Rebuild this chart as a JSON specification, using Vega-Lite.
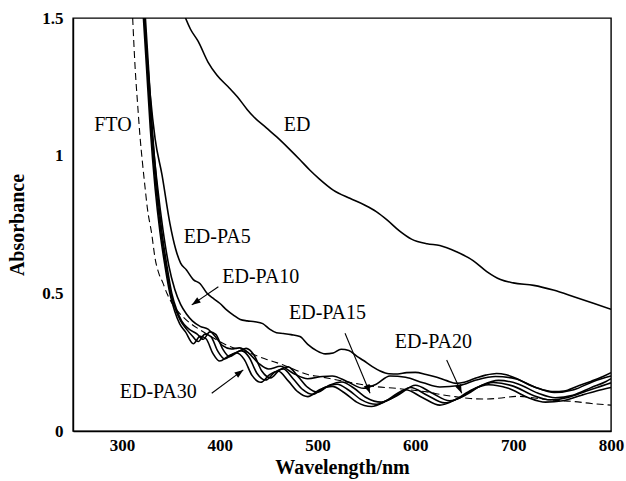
{
  "$schema": "https://vega.github.io/schema/vega-lite/v6.json",
  "width": 538,
  "height": 413,
  "autosize": "none",
  "padding": {"left": 73, "top": 18, "right": 15, "bottom": 50},
  "background": "white",
  "config": {"view": {"stroke": "black", "strokeWidth": 1.4}, "font": "Liberation Serif"},
  "datasets": {
    "curves": [
      {"series": "FTO", "x": 311, "y": 1.5}, {"series": "FTO", "x": 313.5, "y": 1.32}, {"series": "FTO", "x": 316, "y": 1.19}, {"series": "FTO", "x": 318.5, "y": 1.07}, {"series": "FTO", "x": 321, "y": 0.975}, {"series": "FTO", "x": 323.5, "y": 0.89}, {"series": "FTO", "x": 326, "y": 0.81}, {"series": "FTO", "x": 330.5, "y": 0.715}, {"series": "FTO", "x": 334, "y": 0.625}, {"series": "FTO", "x": 338, "y": 0.57}, {"series": "FTO", "x": 342, "y": 0.537}, {"series": "FTO", "x": 346, "y": 0.5}, {"series": "FTO", "x": 351, "y": 0.465}, {"series": "FTO", "x": 356, "y": 0.44}, {"series": "FTO", "x": 366, "y": 0.403}, {"series": "FTO", "x": 380, "y": 0.367}, {"series": "FTO", "x": 395, "y": 0.335}, {"series": "FTO", "x": 407, "y": 0.312}, {"series": "FTO", "x": 420, "y": 0.295}, {"series": "FTO", "x": 431, "y": 0.282}, {"series": "FTO", "x": 448, "y": 0.26}, {"series": "FTO", "x": 465, "y": 0.24}, {"series": "FTO", "x": 480, "y": 0.218}, {"series": "FTO", "x": 490, "y": 0.205}, {"series": "FTO", "x": 503, "y": 0.197}, {"series": "FTO", "x": 520, "y": 0.185}, {"series": "FTO", "x": 540, "y": 0.172}, {"series": "FTO", "x": 560, "y": 0.161}, {"series": "FTO", "x": 580, "y": 0.155}, {"series": "FTO", "x": 595, "y": 0.149}, {"series": "FTO", "x": 612, "y": 0.142}, {"series": "FTO", "x": 628, "y": 0.131}, {"series": "FTO", "x": 642, "y": 0.124}, {"series": "FTO", "x": 656, "y": 0.118}, {"series": "FTO", "x": 672, "y": 0.116}, {"series": "FTO", "x": 688, "y": 0.12}, {"series": "FTO", "x": 705, "y": 0.126}, {"series": "FTO", "x": 722, "y": 0.12}, {"series": "FTO", "x": 738, "y": 0.113}, {"series": "FTO", "x": 762, "y": 0.107}, {"series": "FTO", "x": 780, "y": 0.1}, {"series": "FTO", "x": 800, "y": 0.094},

      {"series": "ED", "x": 365, "y": 1.5}, {"series": "ED", "x": 370, "y": 1.46}, {"series": "ED", "x": 378, "y": 1.415}, {"series": "ED", "x": 388, "y": 1.34}, {"series": "ED", "x": 397, "y": 1.293}, {"series": "ED", "x": 410, "y": 1.245}, {"series": "ED", "x": 418, "y": 1.214}, {"series": "ED", "x": 428, "y": 1.168}, {"series": "ED", "x": 434, "y": 1.144}, {"series": "ED", "x": 448, "y": 1.1}, {"series": "ED", "x": 458, "y": 1.069}, {"series": "ED", "x": 472, "y": 1.021}, {"series": "ED", "x": 482, "y": 0.985}, {"series": "ED", "x": 492, "y": 0.948}, {"series": "ED", "x": 502, "y": 0.915}, {"series": "ED", "x": 516, "y": 0.875}, {"series": "ED", "x": 533, "y": 0.845}, {"series": "ED", "x": 548, "y": 0.821}, {"series": "ED", "x": 560, "y": 0.797}, {"series": "ED", "x": 571, "y": 0.767}, {"series": "ED", "x": 584, "y": 0.726}, {"series": "ED", "x": 596, "y": 0.697}, {"series": "ED", "x": 612, "y": 0.68}, {"series": "ED", "x": 625, "y": 0.674}, {"series": "ED", "x": 642, "y": 0.651}, {"series": "ED", "x": 659, "y": 0.619}, {"series": "ED", "x": 673, "y": 0.579}, {"series": "ED", "x": 687, "y": 0.55}, {"series": "ED", "x": 700, "y": 0.538}, {"series": "ED", "x": 721, "y": 0.529}, {"series": "ED", "x": 741, "y": 0.512}, {"series": "ED", "x": 762, "y": 0.488}, {"series": "ED", "x": 782, "y": 0.464}, {"series": "ED", "x": 800, "y": 0.442},

      {"series": "ED-PA5", "x": 323, "y": 1.5}, {"series": "ED-PA5", "x": 326, "y": 1.35}, {"series": "ED-PA5", "x": 329, "y": 1.22}, {"series": "ED-PA5", "x": 334, "y": 1.06}, {"series": "ED-PA5", "x": 341, "y": 0.93}, {"series": "ED-PA5", "x": 349, "y": 0.755}, {"series": "ED-PA5", "x": 355, "y": 0.66}, {"series": "ED-PA5", "x": 360, "y": 0.61}, {"series": "ED-PA5", "x": 366, "y": 0.585}, {"series": "ED-PA5", "x": 373, "y": 0.55}, {"series": "ED-PA5", "x": 380, "y": 0.535}, {"series": "ED-PA5", "x": 387, "y": 0.5}, {"series": "ED-PA5", "x": 394, "y": 0.48}, {"series": "ED-PA5", "x": 400, "y": 0.464}, {"series": "ED-PA5", "x": 407, "y": 0.44}, {"series": "ED-PA5", "x": 414, "y": 0.421}, {"series": "ED-PA5", "x": 421, "y": 0.405}, {"series": "ED-PA5", "x": 428, "y": 0.4}, {"series": "ED-PA5", "x": 436, "y": 0.397}, {"series": "ED-PA5", "x": 444, "y": 0.39}, {"series": "ED-PA5", "x": 451, "y": 0.37}, {"series": "ED-PA5", "x": 458, "y": 0.357}, {"series": "ED-PA5", "x": 465, "y": 0.354}, {"series": "ED-PA5", "x": 473, "y": 0.35}, {"series": "ED-PA5", "x": 482, "y": 0.343}, {"series": "ED-PA5", "x": 490, "y": 0.315}, {"series": "ED-PA5", "x": 499, "y": 0.292}, {"series": "ED-PA5", "x": 508, "y": 0.28}, {"series": "ED-PA5", "x": 516, "y": 0.283}, {"series": "ED-PA5", "x": 524, "y": 0.297}, {"series": "ED-PA5", "x": 532, "y": 0.292}, {"series": "ED-PA5", "x": 540, "y": 0.272}, {"series": "ED-PA5", "x": 547, "y": 0.256}, {"series": "ED-PA5", "x": 556, "y": 0.234}, {"series": "ED-PA5", "x": 564, "y": 0.218}, {"series": "ED-PA5", "x": 573, "y": 0.208}, {"series": "ED-PA5", "x": 582, "y": 0.207}, {"series": "ED-PA5", "x": 591, "y": 0.212}, {"series": "ED-PA5", "x": 600, "y": 0.213}, {"series": "ED-PA5", "x": 611, "y": 0.205}, {"series": "ED-PA5", "x": 622, "y": 0.195}, {"series": "ED-PA5", "x": 632, "y": 0.183}, {"series": "ED-PA5", "x": 642, "y": 0.173}, {"series": "ED-PA5", "x": 650, "y": 0.177}, {"series": "ED-PA5", "x": 660, "y": 0.19}, {"series": "ED-PA5", "x": 672, "y": 0.203}, {"series": "ED-PA5", "x": 683, "y": 0.209}, {"series": "ED-PA5", "x": 693, "y": 0.204}, {"series": "ED-PA5", "x": 704, "y": 0.19}, {"series": "ED-PA5", "x": 716, "y": 0.168}, {"series": "ED-PA5", "x": 730, "y": 0.15}, {"series": "ED-PA5", "x": 742, "y": 0.143}, {"series": "ED-PA5", "x": 752, "y": 0.145}, {"series": "ED-PA5", "x": 765, "y": 0.162}, {"series": "ED-PA5", "x": 780, "y": 0.181}, {"series": "ED-PA5", "x": 790, "y": 0.195}, {"series": "ED-PA5", "x": 800, "y": 0.212},

      {"series": "ED-PA10", "x": 323, "y": 1.5}, {"series": "ED-PA10", "x": 326, "y": 1.34}, {"series": "ED-PA10", "x": 330, "y": 1.12}, {"series": "ED-PA10", "x": 336, "y": 0.9}, {"series": "ED-PA10", "x": 342, "y": 0.73}, {"series": "ED-PA10", "x": 348, "y": 0.6}, {"series": "ED-PA10", "x": 354, "y": 0.515}, {"series": "ED-PA10", "x": 360, "y": 0.46}, {"series": "ED-PA10", "x": 366, "y": 0.425}, {"series": "ED-PA10", "x": 372, "y": 0.4}, {"series": "ED-PA10", "x": 380, "y": 0.38}, {"series": "ED-PA10", "x": 388, "y": 0.37}, {"series": "ED-PA10", "x": 395, "y": 0.345}, {"series": "ED-PA10", "x": 403, "y": 0.31}, {"series": "ED-PA10", "x": 412, "y": 0.298}, {"series": "ED-PA10", "x": 420, "y": 0.302}, {"series": "ED-PA10", "x": 430, "y": 0.282}, {"series": "ED-PA10", "x": 440, "y": 0.245}, {"series": "ED-PA10", "x": 450, "y": 0.225}, {"series": "ED-PA10", "x": 462, "y": 0.235}, {"series": "ED-PA10", "x": 475, "y": 0.21}, {"series": "ED-PA10", "x": 490, "y": 0.19}, {"series": "ED-PA10", "x": 505, "y": 0.198}, {"series": "ED-PA10", "x": 515, "y": 0.2}, {"series": "ED-PA10", "x": 530, "y": 0.18}, {"series": "ED-PA10", "x": 547, "y": 0.155}, {"series": "ED-PA10", "x": 560, "y": 0.17}, {"series": "ED-PA10", "x": 574, "y": 0.2}, {"series": "ED-PA10", "x": 590, "y": 0.195}, {"series": "ED-PA10", "x": 608, "y": 0.175}, {"series": "ED-PA10", "x": 625, "y": 0.16}, {"series": "ED-PA10", "x": 645, "y": 0.165}, {"series": "ED-PA10", "x": 662, "y": 0.185}, {"series": "ED-PA10", "x": 682, "y": 0.198}, {"series": "ED-PA10", "x": 702, "y": 0.19}, {"series": "ED-PA10", "x": 722, "y": 0.16}, {"series": "ED-PA10", "x": 742, "y": 0.14}, {"series": "ED-PA10", "x": 762, "y": 0.15}, {"series": "ED-PA10", "x": 782, "y": 0.18}, {"series": "ED-PA10", "x": 800, "y": 0.2},

      {"series": "ED-PA15", "x": 324, "y": 1.5}, {"series": "ED-PA15", "x": 327, "y": 1.33}, {"series": "ED-PA15", "x": 331, "y": 1.1}, {"series": "ED-PA15", "x": 336, "y": 0.88}, {"series": "ED-PA15", "x": 341, "y": 0.72}, {"series": "ED-PA15", "x": 346, "y": 0.6}, {"series": "ED-PA15", "x": 351, "y": 0.5}, {"series": "ED-PA15", "x": 356, "y": 0.44}, {"series": "ED-PA15", "x": 361, "y": 0.4}, {"series": "ED-PA15", "x": 368, "y": 0.372}, {"series": "ED-PA15", "x": 377, "y": 0.352}, {"series": "ED-PA15", "x": 383, "y": 0.333}, {"series": "ED-PA15", "x": 390, "y": 0.36}, {"series": "ED-PA15", "x": 396, "y": 0.351}, {"series": "ED-PA15", "x": 403, "y": 0.298}, {"series": "ED-PA15", "x": 410, "y": 0.27}, {"series": "ED-PA15", "x": 418, "y": 0.286}, {"series": "ED-PA15", "x": 427, "y": 0.3}, {"series": "ED-PA15", "x": 435, "y": 0.276}, {"series": "ED-PA15", "x": 443, "y": 0.218}, {"series": "ED-PA15", "x": 452, "y": 0.193}, {"series": "ED-PA15", "x": 461, "y": 0.221}, {"series": "ED-PA15", "x": 470, "y": 0.233}, {"series": "ED-PA15", "x": 480, "y": 0.198}, {"series": "ED-PA15", "x": 490, "y": 0.158}, {"series": "ED-PA15", "x": 500, "y": 0.141}, {"series": "ED-PA15", "x": 512, "y": 0.166}, {"series": "ED-PA15", "x": 525, "y": 0.178}, {"series": "ED-PA15", "x": 537, "y": 0.156}, {"series": "ED-PA15", "x": 550, "y": 0.121}, {"series": "ED-PA15", "x": 565, "y": 0.105}, {"series": "ED-PA15", "x": 582, "y": 0.13}, {"series": "ED-PA15", "x": 600, "y": 0.166}, {"series": "ED-PA15", "x": 617, "y": 0.138}, {"series": "ED-PA15", "x": 635, "y": 0.11}, {"series": "ED-PA15", "x": 651, "y": 0.13}, {"series": "ED-PA15", "x": 668, "y": 0.166}, {"series": "ED-PA15", "x": 685, "y": 0.184}, {"series": "ED-PA15", "x": 705, "y": 0.171}, {"series": "ED-PA15", "x": 725, "y": 0.138}, {"series": "ED-PA15", "x": 743, "y": 0.121}, {"series": "ED-PA15", "x": 761, "y": 0.13}, {"series": "ED-PA15", "x": 780, "y": 0.158}, {"series": "ED-PA15", "x": 795, "y": 0.18}, {"series": "ED-PA15", "x": 800, "y": 0.19},

      {"series": "ED-PA20", "x": 323, "y": 1.5}, {"series": "ED-PA20", "x": 326, "y": 1.33}, {"series": "ED-PA20", "x": 330, "y": 1.1}, {"series": "ED-PA20", "x": 335, "y": 0.88}, {"series": "ED-PA20", "x": 340, "y": 0.72}, {"series": "ED-PA20", "x": 345, "y": 0.6}, {"series": "ED-PA20", "x": 350, "y": 0.5}, {"series": "ED-PA20", "x": 355, "y": 0.44}, {"series": "ED-PA20", "x": 360, "y": 0.4}, {"series": "ED-PA20", "x": 366, "y": 0.37}, {"series": "ED-PA20", "x": 372, "y": 0.345}, {"series": "ED-PA20", "x": 378, "y": 0.325}, {"series": "ED-PA20", "x": 385, "y": 0.352}, {"series": "ED-PA20", "x": 391, "y": 0.343}, {"series": "ED-PA20", "x": 398, "y": 0.29}, {"series": "ED-PA20", "x": 405, "y": 0.262}, {"series": "ED-PA20", "x": 413, "y": 0.278}, {"series": "ED-PA20", "x": 422, "y": 0.292}, {"series": "ED-PA20", "x": 430, "y": 0.268}, {"series": "ED-PA20", "x": 438, "y": 0.21}, {"series": "ED-PA20", "x": 447, "y": 0.185}, {"series": "ED-PA20", "x": 456, "y": 0.213}, {"series": "ED-PA20", "x": 465, "y": 0.225}, {"series": "ED-PA20", "x": 475, "y": 0.19}, {"series": "ED-PA20", "x": 485, "y": 0.15}, {"series": "ED-PA20", "x": 495, "y": 0.133}, {"series": "ED-PA20", "x": 507, "y": 0.158}, {"series": "ED-PA20", "x": 520, "y": 0.17}, {"series": "ED-PA20", "x": 532, "y": 0.148}, {"series": "ED-PA20", "x": 545, "y": 0.113}, {"series": "ED-PA20", "x": 560, "y": 0.097}, {"series": "ED-PA20", "x": 577, "y": 0.122}, {"series": "ED-PA20", "x": 595, "y": 0.158}, {"series": "ED-PA20", "x": 612, "y": 0.13}, {"series": "ED-PA20", "x": 630, "y": 0.102}, {"series": "ED-PA20", "x": 646, "y": 0.122}, {"series": "ED-PA20", "x": 663, "y": 0.158}, {"series": "ED-PA20", "x": 680, "y": 0.176}, {"series": "ED-PA20", "x": 700, "y": 0.163}, {"series": "ED-PA20", "x": 720, "y": 0.13}, {"series": "ED-PA20", "x": 738, "y": 0.113}, {"series": "ED-PA20", "x": 756, "y": 0.122}, {"series": "ED-PA20", "x": 775, "y": 0.145}, {"series": "ED-PA20", "x": 790, "y": 0.163}, {"series": "ED-PA20", "x": 800, "y": 0.175},

      {"series": "ED-PA30", "x": 322, "y": 1.5}, {"series": "ED-PA30", "x": 325, "y": 1.33}, {"series": "ED-PA30", "x": 329, "y": 1.1}, {"series": "ED-PA30", "x": 334, "y": 0.88}, {"series": "ED-PA30", "x": 339, "y": 0.72}, {"series": "ED-PA30", "x": 344, "y": 0.6}, {"series": "ED-PA30", "x": 349, "y": 0.5}, {"series": "ED-PA30", "x": 354, "y": 0.435}, {"series": "ED-PA30", "x": 359, "y": 0.39}, {"series": "ED-PA30", "x": 365, "y": 0.36}, {"series": "ED-PA30", "x": 373, "y": 0.317}, {"series": "ED-PA30", "x": 380, "y": 0.344}, {"series": "ED-PA30", "x": 386, "y": 0.335}, {"series": "ED-PA30", "x": 393, "y": 0.282}, {"series": "ED-PA30", "x": 400, "y": 0.254}, {"series": "ED-PA30", "x": 408, "y": 0.27}, {"series": "ED-PA30", "x": 417, "y": 0.284}, {"series": "ED-PA30", "x": 425, "y": 0.26}, {"series": "ED-PA30", "x": 433, "y": 0.202}, {"series": "ED-PA30", "x": 442, "y": 0.177}, {"series": "ED-PA30", "x": 451, "y": 0.205}, {"series": "ED-PA30", "x": 460, "y": 0.217}, {"series": "ED-PA30", "x": 470, "y": 0.182}, {"series": "ED-PA30", "x": 480, "y": 0.142}, {"series": "ED-PA30", "x": 490, "y": 0.125}, {"series": "ED-PA30", "x": 502, "y": 0.15}, {"series": "ED-PA30", "x": 515, "y": 0.162}, {"series": "ED-PA30", "x": 527, "y": 0.14}, {"series": "ED-PA30", "x": 540, "y": 0.105}, {"series": "ED-PA30", "x": 555, "y": 0.089}, {"series": "ED-PA30", "x": 572, "y": 0.114}, {"series": "ED-PA30", "x": 590, "y": 0.15}, {"series": "ED-PA30", "x": 607, "y": 0.122}, {"series": "ED-PA30", "x": 625, "y": 0.094}, {"series": "ED-PA30", "x": 641, "y": 0.114}, {"series": "ED-PA30", "x": 658, "y": 0.15}, {"series": "ED-PA30", "x": 675, "y": 0.168}, {"series": "ED-PA30", "x": 695, "y": 0.155}, {"series": "ED-PA30", "x": 715, "y": 0.122}, {"series": "ED-PA30", "x": 733, "y": 0.105}, {"series": "ED-PA30", "x": 751, "y": 0.11}, {"series": "ED-PA30", "x": 770, "y": 0.13}, {"series": "ED-PA30", "x": 785, "y": 0.145}, {"series": "ED-PA30", "x": 800, "y": 0.158}
    ],
    "labels": [
      {"text": "FTO", "x": 290.8, "y": 1.11},
      {"text": "ED", "x": 479, "y": 1.11},
      {"text": "ED-PA5", "x": 397.4, "y": 0.705},
      {"text": "ED-PA10", "x": 442, "y": 0.56},
      {"text": "ED-PA15", "x": 510.2, "y": 0.428},
      {"text": "ED-PA20", "x": 618.4, "y": 0.324},
      {"text": "ED-PA30", "x": 337.2, "y": 0.143}
    ],
    "arrows": [
      {"label": "ED-PA10", "x": 398.6, "y": 0.524, "x2": 371.4, "y2": 0.458},
      {"label": "ED-PA30", "x": 391.8, "y": 0.137, "x2": 424.1, "y2": 0.222},
      {"label": "ED-PA15", "x": 528.1, "y": 0.355, "x2": 553.7, "y2": 0.137},
      {"label": "ED-PA20", "x": 632, "y": 0.258, "x2": 647.4, "y2": 0.137}
    ],
    "heads": [
      {"label": "ED-PA10", "x": 371.4, "y": 0.458},
      {"label": "ED-PA30", "x": 424.1, "y": 0.222},
      {"label": "ED-PA15", "x": 553.7, "y": 0.137},
      {"label": "ED-PA20", "x": 647.4, "y": 0.137}
    ],
    "xticks": [
      {"x": 300, "kind": "major"}, {"x": 350, "kind": "minor"}, {"x": 400, "kind": "major"}, {"x": 450, "kind": "minor"}, {"x": 500, "kind": "major"}, {"x": 550, "kind": "minor"}, {"x": 600, "kind": "major"}, {"x": 650, "kind": "minor"}, {"x": 700, "kind": "major"}, {"x": 750, "kind": "minor"}
    ],
    "yticks": [
      {"y": 0.1, "kind": "minor"}, {"y": 0.2, "kind": "minor"}, {"y": 0.3, "kind": "minor"}, {"y": 0.4, "kind": "minor"}, {"y": 0.5, "kind": "major"}, {"y": 0.6, "kind": "minor"}, {"y": 0.7, "kind": "minor"}, {"y": 0.8, "kind": "minor"}, {"y": 0.9, "kind": "minor"}, {"y": 1, "kind": "major"}, {"y": 1.1, "kind": "minor"}, {"y": 1.2, "kind": "minor"}, {"y": 1.3, "kind": "minor"}, {"y": 1.4, "kind": "minor"}
    ]
  },
  "encoding": {
    "x": {
      "field": "x", "type": "quantitative",
      "scale": {"domain": [250, 800], "nice": false, "zero": false},
      "axis": {
        "title": "Wavelength/nm",
        "values": [300, 400, 500, 600, 700, 800],
        "grid": false,
        "ticks": false,
        "domainColor": "black", "domainWidth": 1.4,
        "labelPadding": 6,
        "labelFont": "Liberation Serif", "labelFontWeight": "bold", "labelFontSize": 17, "labelColor": "black",
        "labelFlush": false, "labelOverlap": false,
        "titleFont": "Liberation Serif", "titleFontWeight": "bold", "titleFontSize": 20, "titleColor": "black",
        "titlePadding": 4
      }
    },
    "y": {
      "field": "y", "type": "quantitative",
      "scale": {"domain": [0, 1.5], "nice": false},
      "axis": {
        "title": "Absorbance",
        "values": [0, 0.5, 1, 1.5],
        "labelExpr": "'' + datum.value",
        "grid": false,
        "ticks": false,
        "domainColor": "black", "domainWidth": 1.4,
        "labelPadding": 10,
        "labelFont": "Liberation Serif", "labelFontWeight": "bold", "labelFontSize": 17, "labelColor": "black",
        "labelFlush": false, "labelOverlap": false,
        "titleFont": "Liberation Serif", "titleFontWeight": "bold", "titleFontSize": 20, "titleColor": "black",
        "titlePadding": 14
      }
    }
  },
  "layer": [
    {
      "data": {"name": "curves"},
      "transform": [{"filter": "datum.series !== 'FTO'"}],
      "mark": {"type": "line", "color": "black", "strokeWidth": 1.6, "interpolate": "monotone", "clip": true},
      "encoding": {"detail": {"field": "series"}, "order": {"field": "x", "type": "quantitative"}}
    },
    {
      "data": {"name": "curves"},
      "transform": [{"filter": "datum.series === 'FTO'"}],
      "mark": {"type": "line", "color": "black", "strokeWidth": 1.1, "strokeDash": [7, 4], "interpolate": "monotone", "clip": true},
      "encoding": {"order": {"field": "x", "type": "quantitative"}}
    },
    {
      "data": {"name": "labels"},
      "mark": {"type": "text", "font": "Liberation Serif", "fontSize": 20, "color": "black", "align": "center", "baseline": "middle"},
      "encoding": {"text": {"field": "text"}}
    },
    {
      "data": {"name": "arrows"},
      "mark": {"type": "rule", "color": "black", "strokeWidth": 1.1},
      "encoding": {"x2": {"field": "x2"}, "y2": {"field": "y2"}}
    },
    {
      "data": {"name": "heads"},
      "transform": [{"filter": "datum.label === 'ED-PA10'"}],
      "mark": {"type": "point", "shape": "M0,0L-0.8,2.2L0.8,2.2Z", "size": 64, "filled": true, "color": "black", "opacity": 1, "angle": 235.5},
      "encoding": {}
    },
    {
      "data": {"name": "heads"},
      "transform": [{"filter": "datum.label === 'ED-PA30'"}],
      "mark": {"type": "point", "shape": "M0,0L-0.8,2.2L0.8,2.2Z", "size": 64, "filled": true, "color": "black", "opacity": 1, "angle": 53.6},
      "encoding": {}
    },
    {
      "data": {"name": "heads"},
      "transform": [{"filter": "datum.label === 'ED-PA15'"}],
      "mark": {"type": "point", "shape": "M0,0L-0.8,2.2L0.8,2.2Z", "size": 64, "filled": true, "color": "black", "opacity": 1, "angle": 157.4},
      "encoding": {}
    },
    {
      "data": {"name": "heads"},
      "transform": [{"filter": "datum.label === 'ED-PA20'"}],
      "mark": {"type": "point", "shape": "M0,0L-0.8,2.2L0.8,2.2Z", "size": 64, "filled": true, "color": "black", "opacity": 1, "angle": 155.7},
      "encoding": {}
    },
    {
      "data": {"name": "xticks"},
      "transform": [{"filter": "datum.kind === 'major'"}],
      "mark": {"type": "rule", "color": "black", "strokeWidth": 1.8},
      "encoding": {"y": {"datum": 0}, "y2": {"datum": 0.0327}}
    },
    {
      "data": {"name": "xticks"},
      "transform": [{"filter": "datum.kind === 'minor'"}],
      "mark": {"type": "rule", "color": "black", "strokeWidth": 1.8},
      "encoding": {"y": {"datum": 0}, "y2": {"datum": 0.0218}}
    },
    {
      "data": {"name": "yticks"},
      "transform": [{"filter": "datum.kind === 'major'"}],
      "mark": {"type": "rule", "color": "black", "strokeWidth": 1.8},
      "encoding": {"x": {"datum": 250}, "x2": {"datum": 259.2}}
    },
    {
      "data": {"name": "yticks"},
      "transform": [{"filter": "datum.kind === 'minor'"}],
      "mark": {"type": "rule", "color": "black", "strokeWidth": 1.8},
      "encoding": {"x": {"datum": 250}, "x2": {"datum": 256.1}}
    }
  ]
}
